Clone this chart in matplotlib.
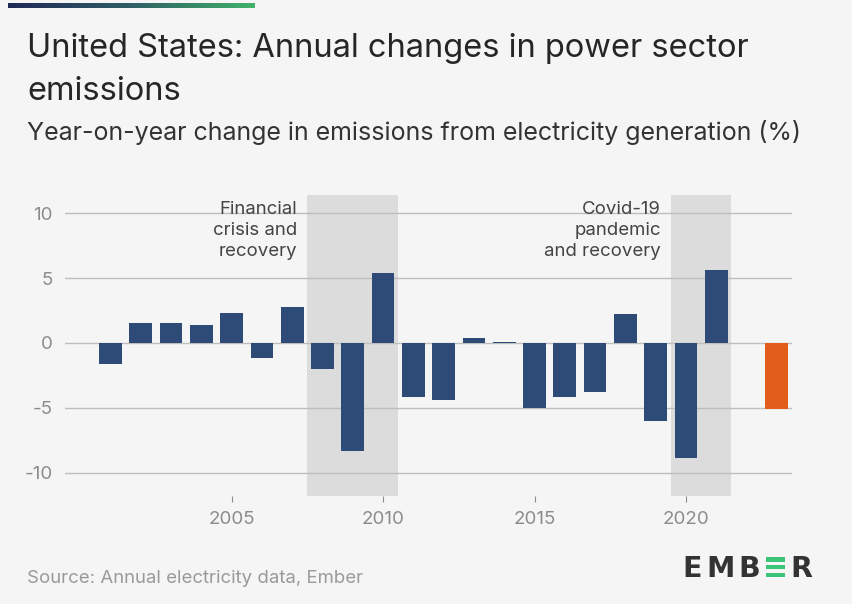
# Annual changes in US power sector emissions (Ember style bar chart)
import numpy as np
import matplotlib
matplotlib.use('Agg')
from matplotlib import pyplot as plt
from matplotlib.patches import Rectangle

plt.rcParams['font.family'] = ['Inter', 'DejaVu Sans']

years = [2001, 2002, 2003, 2004, 2005, 2006, 2007, 2008, 2009, 2010, 2011,
         2012, 2013, 2014, 2015, 2016, 2017, 2018, 2019, 2020, 2021]
changes = [-1.6, 1.5, 1.5, 1.4, 2.3, -1.2, 2.8, -2.0, -8.3, 5.4, -4.2,
           -4.4, 0.4, 0.1, -5.0, -4.2, -3.8, 2.2, -6.0, -8.9, 5.6]
latest_year = [2023]
latest_change = [-5.1]

periods = [(2007.5, 2010.5), (2019.5, 2021.5)]
period_labels = ['Financial\ncrisis and\nrecovery', 'Covid-19\npandemic\nand recovery']

x_ticks = [2005, 2010, 2015, 2020]
y_ticks = [-10, -5, 0, 5, 10]

BG = '#f5f5f5'
NAVY = '#2e4a76'
ORANGE = '#e35d1a'
SHADE = '#dcdcdc'
GRID = '#bdbdbd'
TICK_GRAY = '#8c8c8c'
TEXT_DARK = '#262626'
LOGO = '#333333'
LOGO_GREEN = '#3bc47a'


def main():
    fig = plt.figure(figsize=(8.53, 6.04), dpi=100, facecolor=BG)
    W, H = 853, 604

    # gradient strip at the top left
    gax = fig.add_axes([8 / W, 1 - 8 / H, 247 / W, 5 / H])
    grad = np.linspace(0, 1, 256).reshape(1, -1)
    cmap = matplotlib.colors.LinearSegmentedColormap.from_list('g', ['#1f2857', '#2f5f66', '#41b36a'])
    gax.imshow(grad, aspect='auto', cmap=cmap)
    gax.axis('off')

    ax = fig.add_axes([65 / W, 1 - 496 / H, (792 - 65) / W, (496 - 195) / H])
    ax.set_facecolor(BG)

    for (x0, x1), label in zip(periods, period_labels):
        ax.axvspan(x0, x1, color=SHADE, zorder=0, lw=0)
        ax.text(x0 - 0.33, 10.9, label, ha='right', va='top', fontsize=13.4,
                color='#444444', linespacing=1.3, zorder=3)

    for t in y_ticks:
        ax.axhline(t, color=GRID, lw=1, zorder=1)

    ax.bar(years, changes, width=0.75, color=NAVY, zorder=2)
    ax.bar(latest_year, latest_change, width=0.75, color=ORANGE, zorder=2)

    ax.set_xlim(1999.5, 2023.5)
    ax.set_ylim(-11.8, 11.4)
    ax.set_xticks(x_ticks)
    ax.set_xticklabels([str(x) for x in x_ticks])
    ax.set_yticks(y_ticks)
    ax.set_yticklabels([str(y) for y in y_ticks])
    ax.tick_params(axis='x', length=4, width=0.8, color=TICK_GRAY, labelcolor=TICK_GRAY,
                   labelsize=13.5, pad=7)
    ax.tick_params(axis='y', length=0, labelcolor=TICK_GRAY, labelsize=13.5, pad=9)
    for s in ax.spines.values():
        s.set_visible(False)

    # titles
    fig.text(27 / W, 1 - 57 / H, 'United States: Annual changes in power sector',
             fontsize=23.5, color=TEXT_DARK, va='baseline')
    fig.text(27 / W, 1 - 100 / H, 'emissions',
             fontsize=23.5, color=TEXT_DARK, va='baseline')
    fig.text(27 / W, 1 - 140 / H, 'Year-on-year change in emissions from electricity generation (%)',
             fontsize=18, color='#333333', va='baseline')
    fig.text(27 / W, 1 - 583 / H, 'Source: Annual electricity data, Ember',
             fontsize=13.4, color='#9a9a9a', va='baseline')

    # EMBER logo, letter by letter, with the second E drawn as three green bars
    base = 577
    for letter, lx in [('E', 682), ('M', 706), ('B', 738), ('R', 790)]:
        fig.text(lx / W, 1 - base / H, letter, fontsize=20.5, fontweight='bold',
                 family='DejaVu Sans', color=LOGO, va='baseline')
    cap = 20.0
    bar_h = 4.5
    for k in range(3):
        y0 = (H - base) + k * (cap - bar_h) / 2
        fig.add_artist(Rectangle((766 / W, y0 / H), 19 / W, bar_h / H,
                                 transform=fig.transFigure, color=LOGO_GREEN, lw=0))

    fig.savefig('out.png', dpi=100, facecolor=BG)


if __name__ == '__main__':
    main()
